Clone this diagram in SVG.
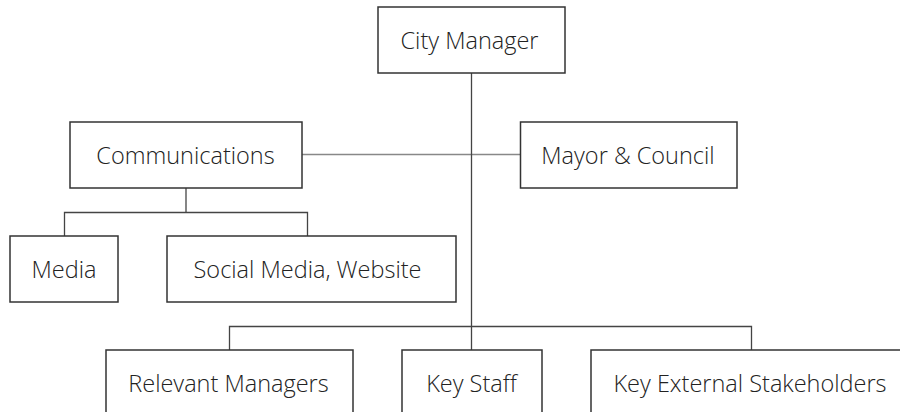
<svg xmlns="http://www.w3.org/2000/svg" width="900" height="412" viewBox="0 0 900 412">
<style>
.box{fill:#fff;stroke:#333;stroke-width:1.5}
.lbl{font-family:"Open Sans","Noto Sans",sans-serif;font-weight:300;font-size:23.5px;fill:#222;text-anchor:middle}
.ln{fill:none;stroke:#444;stroke-width:1.3}
.lg{fill:none;stroke:#888;stroke-width:1.3}
</style>
<rect width="900" height="412" fill="#fff"/>
<g id="connectors">
<line class="lg" x1="302" y1="154.5" x2="520" y2="154.5"/>
<line class="ln" x1="471.5" y1="73" x2="471.5" y2="350"/>
<polyline class="ln" points="229.5,350 229.5,326.5 751.5,326.5 751.5,350"/>
<line class="ln" x1="186" y1="188" x2="186" y2="212"/>
<polyline class="ln" points="64.5,236 64.5,212.5 307.5,212.5 307.5,236"/>
</g>
<g id="city-manager"><rect class="box" x="378" y="7" width="187" height="66"/><text class="lbl" x="469.5" y="49">City Manager</text></g>
<g id="communications"><rect class="box" x="70" y="122" width="232" height="66"/><text class="lbl" x="185.5" y="164">Communications</text></g>
<g id="mayor-council"><rect class="box" x="520.5" y="122" width="216.5" height="66"/><text class="lbl" x="628" y="164">Mayor &amp; Council</text></g>
<g id="media"><rect class="box" x="10" y="236" width="108" height="66"/><text class="lbl" x="64" y="278">Media</text></g>
<g id="social-media"><rect class="box" x="167" y="236" width="289" height="66"/><text class="lbl" x="307.5" y="278">Social Media, Website</text></g>
<g id="relevant-managers"><rect class="box" x="106" y="350" width="247" height="80"/><text class="lbl" x="228.5" y="392">Relevant Managers</text></g>
<g id="key-staff"><rect class="box" x="402" y="350" width="140" height="80"/><text class="lbl" x="471.5" y="392">Key Staff</text></g>
<g id="key-external"><rect class="box" x="591" y="350" width="320" height="80"/><text class="lbl" x="750" y="392">Key External Stakeholders</text></g>
</svg>
